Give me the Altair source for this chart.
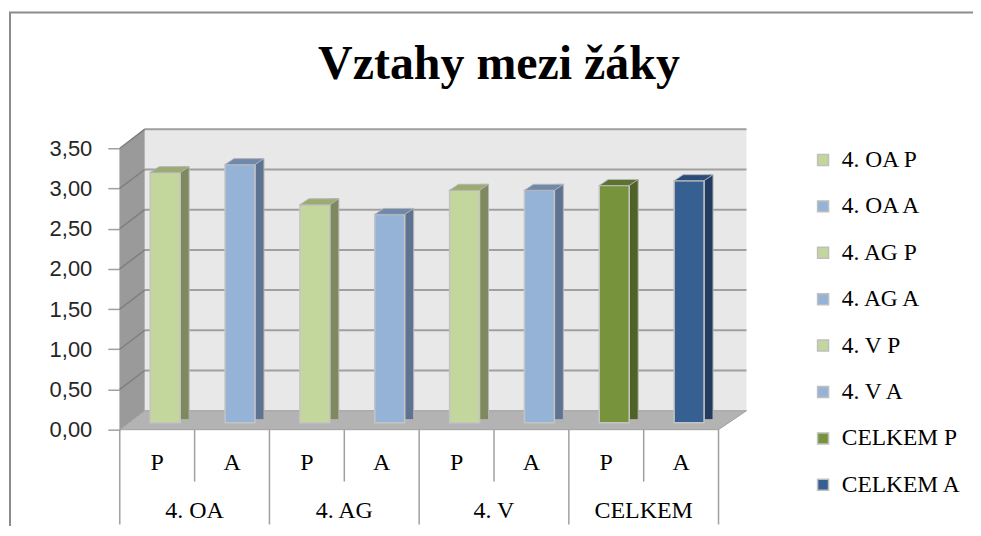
import altair as alt
import pandas as pd

# ---- data ----
groups = ["4. OA", "4. AG", "4. V", "CELKEM"]
kinds = ["P", "A"]
values = [3.11, 3.21, 2.71, 2.59, 2.89, 2.89, 2.95, 3.01]
series = [f"{g} {k}" for g in groups for k in kinds]
y_ticks = [0, 0.5, 1.0, 1.5, 2.0, 2.5, 3.0, 3.5]
title_text = "Vztahy mezi žáky"

front_colors = ["#c3d69b", "#95b3d7", "#c3d69b", "#95b3d7", "#c3d69b", "#95b3d7", "#77933c", "#376092"]
side_colors = ["#7e8a5d", "#5e7391", "#7e8a5d", "#5e7391", "#7e8a5d", "#5e7391", "#4f6228", "#203c60"]
top_colors = ["#9bab72", "#7089ab", "#9bab72", "#7089ab", "#9bab72", "#7089ab", "#5d7230", "#2a4c78"]

df = pd.DataFrame({
    "series": series,
    "group": [g for g in groups for _ in kinds],
    "kind": [k for _ in groups for k in kinds],
    "value": values,
})
ticks_df = pd.DataFrame({"t": y_ticks})
one = pd.DataFrame({"d": [0]})

W, H = 600, 282
DX, DY = 25, -19  # depth offset of back wall (px)
GRID = "#a0a0a0"
SERIF = "Liberation Serif"

yscale = alt.Scale(domain=[0, 3.5], nice=False)
yaxis = alt.Axis(
    values=y_ticks, labelExpr="replace(format(datum.value, '.2f'), '.', ',')",
    grid=False, title=None, domainColor=GRID, domainWidth=1.5, tickColor=GRID,
    tickWidth=1.5, tickSize=12, labelPadding=16, labelFont="Liberation Sans",
    labelFontSize=22, labelColor="#262626")
xscale = alt.Scale(domain=series, paddingInner=0, paddingOuter=0)
X = alt.X("series:N", scale=xscale, axis=None)

# frame border
border = alt.Chart(one).mark_rect(fillOpacity=0, stroke="#8c8c8c", strokeWidth=2).encode(
    x=alt.value(-110), x2=alt.value(900), y=alt.value(-136), y2=alt.value(500))

# back wall
back = alt.Chart(one).mark_rect(color="#e8e8e8").encode(
    x=alt.value(DX), x2=alt.value(W + 28), y=alt.value(DY - 1), y2=alt.value(H + DY))

grid = alt.Chart(ticks_df).transform_filter("datum.t > 0").mark_rule(
    color=GRID, strokeWidth=2, yOffset=DY).encode(
    y=alt.Y("t:Q", scale=yscale, axis=yaxis), x=alt.value(DX), x2=alt.value(W + 28))

left_wall = alt.Chart(one).mark_point(
    shape=f"M0,{H}L{DX},{H + DY}L{DX},{DY - 1}L0,0Z", size=4, filled=True,
    color="#9a9a9a", opacity=1, strokeWidth=0).encode(x=alt.value(0), y=alt.value(0))

wall_lines = alt.Chart(ticks_df).transform_filter("datum.t > 0").mark_rule(
    color="#7f7f7f", strokeWidth=1.5, y2Offset=DY).encode(
    y=alt.Y("t:Q", scale=yscale, axis=yaxis), y2="t:Q", x=alt.value(0), x2=alt.value(DX))

floor = alt.Chart(one).mark_point(
    shape=f"M0,{H}L{W},{H}L{W + 28},{H + DY}L{DX},{H + DY}Z", size=4, filled=True,
    color="#b3b3b3", opacity=1, stroke="#a0a0a0", strokeWidth=1).encode(
    x=alt.value(0), y=alt.value(0))

# bars (3D look)
side = alt.Chart(df).mark_bar(width=9, xOffset=27.5, yOffset=-13, y2Offset=-10, opacity=1,
                               stroke="#b5b5b5", strokeWidth=1).encode(
    x=X, y=alt.Y("value:Q", scale=yscale, axis=yaxis), y2=alt.datum(0),
    color=alt.Color("series:N", scale=alt.Scale(domain=series, range=side_colors), legend=None))

front = alt.Chart(df).mark_bar(width=30, xOffset=8, yOffset=-7, y2Offset=-7, opacity=1,
                                stroke="#c4c4c4", strokeWidth=1.5).encode(
    x=X,
    y=alt.Y("value:Q", scale=yscale, axis=yaxis),
    y2=alt.datum(0),
    color=alt.Color("series:N", scale=alt.Scale(domain=series, range=front_colors),
                    legend=alt.Legend(orient="none", legendX=693, legendY=0, title=None,
                                      labelFont=SERIF, labelFontSize=23.5, labelColor="black",
                                      symbolType="square", symbolSize=121,
                                      symbolStrokeColor="#bfbfbf", symbolStrokeWidth=1.5,
                                      symbolOpacity=1, rowPadding=21.5, labelOffset=7,
                                      padding=0)))

top = alt.Chart(df).mark_point(shape="M-7,-7L23,-7L32,-13L2,-13Z", size=4, filled=True,
                               opacity=1, stroke="#b5b5b5", strokeWidth=1).encode(
    x=X, y=alt.Y("value:Q", scale=yscale, axis=yaxis),
    color=alt.Color("series:N", scale=alt.Scale(domain=series, range=top_colors), legend=None))

# category table below
inner_div = alt.Chart(df).transform_filter("datum.kind == 'A'").mark_rule(
    color=GRID, strokeWidth=1.5, xOffset=-37.5).encode(
    x=X, y=alt.value(H), y2=alt.value(H + 52))
group_div = alt.Chart(df).transform_filter("datum.kind == 'P'").mark_rule(
    color=GRID, strokeWidth=1.5, xOffset=-37.5).encode(
    x=X, y=alt.value(H), y2=alt.value(H + 95))
last_div = alt.Chart(one).mark_rule(color=GRID, strokeWidth=1.5).encode(
    x=alt.value(W), y=alt.value(H), y2=alt.value(H + 95))

kind_labels = alt.Chart(df).mark_text(font=SERIF, fontSize=24, color="black",
                                      baseline="middle").encode(
    x=X, y=alt.value(H + 33), text="kind:N")
group_labels = alt.Chart(df).transform_filter("datum.kind == 'P'").mark_text(
    font=SERIF, fontSize=24, color="black", baseline="middle", xOffset=37.5).encode(
    x=X, y=alt.value(H + 82), text="group:N")

title = alt.Chart(one).mark_text(font=SERIF, fontSize=48, fontWeight="bold", color="black",
                                 baseline="alphabetic", align="center").encode(
    x=alt.value(380), y=alt.value(-69), text=alt.value(title_text))

chart = alt.layer(
    border, back, grid, left_wall, wall_lines, floor, side, front, top,
    inner_div, group_div, last_div, kind_labels, group_labels, title
).resolve_scale(color="independent").properties(
    width=W, height=H,
    autosize=alt.AutoSizeParams(type="none"),
    padding={"left": 112, "top": 140, "right": 255, "bottom": 96},
    background="white",
).configure_view(strokeWidth=0)

chart.save("out.html", embed_options={"renderer": "svg", "actions": False})
